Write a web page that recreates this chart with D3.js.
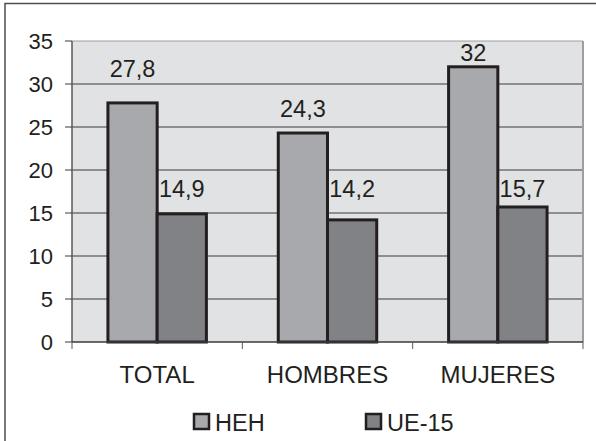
<!DOCTYPE html>
<html>
<head>
<meta charset="utf-8">
<script src="https://cdn.jsdelivr.net/npm/d3@7"></script>
<style>
  body { margin: 0; background: #fff; }
  svg text { font-family: "Liberation Sans", Arial, sans-serif; fill: #231f20; }
</style>
</head>
<body>
<svg id="chart_svg" width="596" height="441"></svg>
<script>
// data
var categories = ["TOTAL", "HOMBRES", "MUJERES"];
var series = ["HEH", "UE-15"];
var heh_values = [27.8, 24.3, 32];
var ue_values = [14.9, 14.2, 15.7];
var heh_label_at = [30.8, 26.2, 32.7]; // where Excel put the value labels
var ue_label_at = [16.9, 16.9, 16.9];
var y_ticks = [0, 5, 10, 15, 20, 25, 30, 35];
var series_colors = ["#a8a9ad", "#818286"];

var svg = d3.select("#chart_svg");

// outer frame (only top and left edges are inside the picture)
svg.append("rect")
    .attr("x", 5).attr("y", 3.5).attr("width", 800).attr("height", 800)
    .attr("style", "fill:none; stroke:#4d4d4f; stroke-width:1.5");

// set scalers
var x0 = d3.scaleBand().domain(categories).range([72, 583]);
var x1 = d3.scaleBand().domain(series).range([0, x0.bandwidth()]).paddingOuter(0.73);
var y = d3.scaleLinear().domain([0, 35]).range([342, 41]);

// plot area
svg.append("rect")
    .attr("x", x0.range()[0]).attr("y", y(35))
    .attr("width", x0.range()[1] - x0.range()[0]).attr("height", y(0) - y(35))
    .attr("style", "fill:#e1e2e4");

// gridlines
svg.selectAll(".grid").data(y_ticks.filter(d => d > 0 && d < 35)).join("line").classed("grid", true)
    .attr("x1", x0.range()[0]).attr("x2", x0.range()[1])
    .attr("y1", d => y(d)).attr("y2", d => y(d))
    .attr("style", "stroke:#3a3a3c; stroke-width:1");

// top and right border of plot
svg.append("line")
    .attr("x1", x0.range()[0]).attr("x2", x0.range()[1])
    .attr("y1", y(35)).attr("y2", y(35))
    .attr("style", "stroke:#9d9ea1; stroke-width:1");
svg.append("line")
    .attr("x1", x0.range()[1]).attr("x2", x0.range()[1])
    .attr("y1", y(35)).attr("y2", y(0))
    .attr("style", "stroke:#9d9ea1; stroke-width:2");

// bars
var rows = categories.map((c, i) => ({ cat: c, vals: [heh_values[i], ue_values[i]], lab: [heh_label_at[i], ue_label_at[i]] }));
var groups = svg.selectAll(".group").data(rows).join("g").classed("group", true)
    .attr("transform", d => "translate(" + x0(d.cat) + ",0)");
groups.selectAll(".bar").data(d => d.vals.map((v, j) => ({ s: series[j], v: v, lab: d.lab[j], j: j })))
    .join("rect").classed("bar", true)
    .attr("x", d => x1(d.s)).attr("y", d => y(d.v))
    .attr("width", x1.bandwidth()).attr("height", d => y(0) - y(d.v))
    .attr("style", d => "fill:" + series_colors[d.j] + "; stroke:#231f20; stroke-width:3");
groups.selectAll(".val").data(d => d.vals.map((v, j) => ({ s: series[j], v: v, lab: d.lab[j] })))
    .join("text").classed("val", true)
    .attr("x", d => x1(d.s) + x1.bandwidth() / 2).attr("y", d => y(d.lab))
    .attr("text-anchor", "middle").attr("font-size", 23.5)
    .text(d => String(d.v).replace(".", ","));

// y axis
svg.append("line")
    .attr("x1", 72).attr("x2", 72).attr("y1", y(35)).attr("y2", y(0))
    .attr("style", "stroke:#58585a; stroke-width:1.5");
svg.selectAll(".ytick").data(y_ticks).join("line").classed("ytick", true)
    .attr("x1", 65).attr("x2", 72).attr("y1", d => y(d)).attr("y2", d => y(d))
    .attr("style", "stroke:#3a3a3c; stroke-width:1");
svg.selectAll(".ylab").data(y_ticks).join("text").classed("ylab", true)
    .attr("x", 53).attr("y", d => y(d)).attr("dy", "0.36em")
    .attr("text-anchor", "end").attr("font-size", 22)
    .text(d => d);

// x axis
svg.append("line")
    .attr("x1", 72).attr("x2", 583).attr("y1", y(0)).attr("y2", y(0))
    .attr("style", "stroke:#3a3a3c; stroke-width:1.5");
var xticks = categories.map(c => x0(c)).concat([x0.range()[1]]);
svg.selectAll(".xtick").data(xticks).join("line").classed("xtick", true)
    .attr("x1", d => d).attr("x2", d => d).attr("y1", y(0)).attr("y2", y(0) + 7)
    .attr("style", "stroke:#58585a; stroke-width:1");
svg.selectAll(".xlab").data(categories).join("text").classed("xlab", true)
    .attr("x", d => x0(d) + x0.bandwidth() / 2).attr("y", 383)
    .attr("text-anchor", "middle").attr("font-size", 24)
    .text(d => d);

// legend
var legend_x = [193, 365];
var legend = svg.selectAll(".legend").data(series).join("g").classed("legend", true)
    .attr("transform", (d, i) => "translate(" + legend_x[i] + ",413)");
legend.append("rect")
    .attr("x", 1).attr("y", 1).attr("width", 15).attr("height", 15)
    .attr("style", (d, i) => "fill:" + series_colors[i] + "; stroke:#231f20; stroke-width:2.5");
legend.append("text")
    .attr("x", 22).attr("y", 18).attr("font-size", 23.5)
    .text(d => d);
</script>
</body>
</html>
